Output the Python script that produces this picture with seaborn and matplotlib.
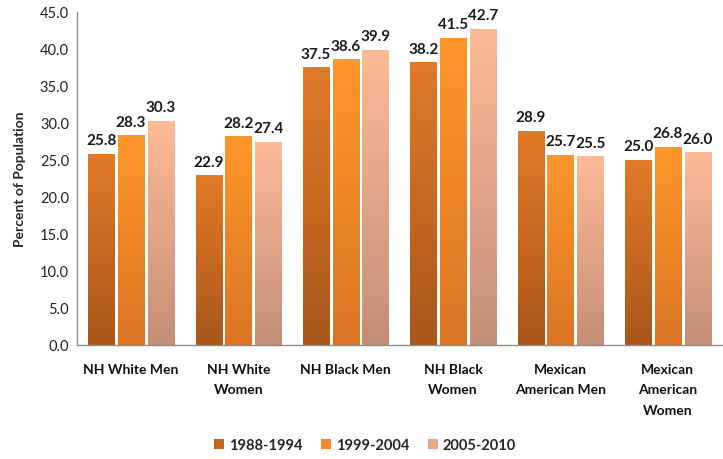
import numpy as np
import pandas as pd
import matplotlib
matplotlib.use("Agg")
import matplotlib.pyplot as plt
import seaborn as sns
from matplotlib.colors import LinearSegmentedColormap
from matplotlib.patches import Patch

groups = ["NH White Men", "NH White\nWomen", "NH Black Men", "NH Black\nWomen",
          "Mexican\nAmerican Men", "Mexican\nAmerican\nWomen"]
periods = ["1988-1994", "1999-2004", "2005-2010"]
v_1988_1994 = [25.8, 22.9, 37.5, 38.2, 28.9, 25.0]
v_1999_2004 = [28.3, 28.2, 38.6, 41.5, 25.7, 26.8]
v_2005_2010 = [30.3, 27.4, 39.9, 42.7, 25.5, 26.0]
y_ticks = np.arange(0, 45.1, 5)

# top / bottom colours of each series' vertical gradient
grad = {
    "1988-1994": ("#E27A27", "#A9571B"),
    "1999-2004": ("#FF962A", "#DB7524"),
    "2005-2010": ("#FDBA95", "#C48F77"),
}
solid = {k: v[0] for k, v in grad.items()}
legend_col = {"1988-1994": "#C4661F", "1999-2004": "#F5892A", "2005-2010": "#E8A88A"}

df = pd.DataFrame({
    "group": groups * 3,
    "period": [p for p in periods for _ in groups],
    "value": v_1988_1994 + v_1999_2004 + v_2005_2010,
})

sns.set_style("white")
plt.rcParams["font.family"] = ["Lato", "DejaVu Sans"]

fig = plt.figure(figsize=(7.23, 4.6), dpi=100)
ax = fig.add_axes([0.107, 0.248, 0.891, 0.724])

sns.barplot(data=df, x="group", y="value", hue="period", hue_order=periods,
            palette=solid, width=0.83, gap=0.12, ax=ax, legend=False,
            errorbar=None)

ax.set_ylim(0, 45)
ax.set_xlim(-0.5, len(groups) - 0.5)

# replace flat fills with vertical gradients
for container, p in zip(ax.containers, periods):
    top, bot = grad[p]
    cmap = LinearSegmentedColormap.from_list(p, [top, bot])
    for bar, val in zip(container.patches, container.datavalues):
        x0 = bar.get_x()
        w = bar.get_width()
        h = bar.get_height()
        bar.set_facecolor("none")
        bar.set_edgecolor("none")
        img = ax.imshow(np.linspace(0, 1, 256).reshape(-1, 1), cmap=cmap,
                        extent=[x0, x0 + w, 0, h], origin="upper",
                        aspect="auto", zorder=2)
        img.set_clip_path(bar)
        ax.text(x0 + w / 2, h + 0.9, f"{val:.1f}", ha="center", va="bottom",
                fontsize=11, fontweight="bold", color="#1a1a1a")

ax.set_xlim(-0.5, len(groups) - 0.5)
ax.set_ylim(0, 45)
ax.set_yticks(y_ticks)
ax.set_yticklabels([f"{t:.1f}" for t in y_ticks], fontsize=10.5, color="#222222")
ax.set_xticks(range(len(groups)))
ax.set_xticklabels(groups, fontsize=10, fontweight="bold", linespacing=1.85,
                   color="#111111", va="top")
ax.tick_params(axis="both", length=0, pad=6)
ax.tick_params(axis="x", pad=13)
ax.set_xlabel("")
ax.set_ylabel("Percent of Population", fontsize=10, fontweight="bold",
              labelpad=10)

for s in ["top", "right"]:
    ax.spines[s].set_visible(False)
for s in ["left", "bottom"]:
    ax.spines[s].set_color("#8c8c8c")
    ax.spines[s].set_linewidth(1.0)

handles = [Patch(facecolor=legend_col[p], edgecolor="none") for p in periods]
fig.legend(handles, periods, loc="center", bbox_to_anchor=(0.505, 0.03),
           ncol=3, frameon=False, handlelength=0.7, handleheight=0.7,
           columnspacing=1.3, handletextpad=0.3,
           prop={"weight": "bold", "size": 10.5})

fig.savefig("out.png", dpi=100)
